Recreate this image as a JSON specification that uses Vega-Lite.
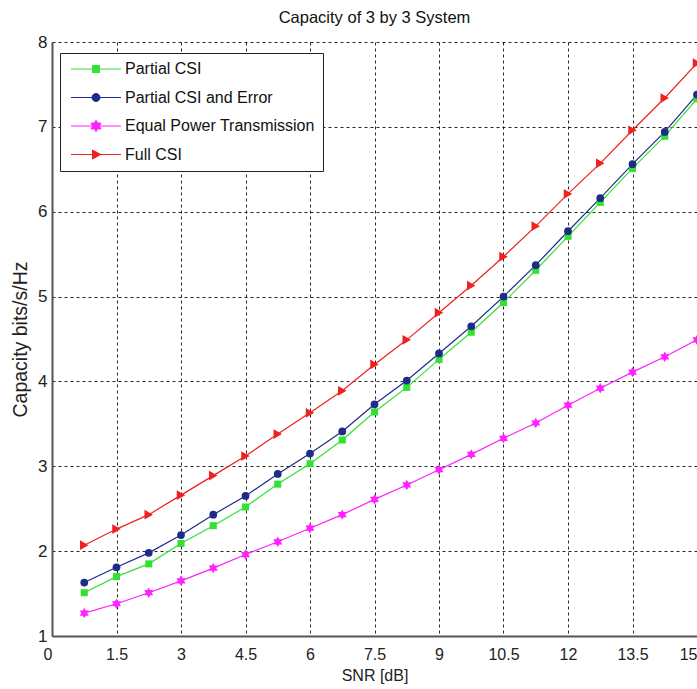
{
  "$schema": "https://vega.github.io/schema/vega-lite/v6.json",
  "width": 645,
  "height": 594,
  "autosize": {"type": "none"},
  "padding": {"left": 52, "top": 42, "right": 0, "bottom": 53},
  "background": "white",
  "title": {"text": "Capacity of 3 by 3 System", "font": "Liberation Sans", "fontSize": 16.5, "fontWeight": "normal", "color": "#111", "offset": 7, "anchor": "middle"},
  "config": {
    "view": {"stroke": null},
    "font": "Liberation Sans"
  },
  "data": {"values": [
    {"snr": 0.75, "cap": 1.51, "series": "Partial CSI"},
    {"snr": 1.5, "cap": 1.70, "series": "Partial CSI"},
    {"snr": 2.25, "cap": 1.85, "series": "Partial CSI"},
    {"snr": 3, "cap": 2.09, "series": "Partial CSI"},
    {"snr": 3.75, "cap": 2.30, "series": "Partial CSI"},
    {"snr": 4.5, "cap": 2.52, "series": "Partial CSI"},
    {"snr": 5.25, "cap": 2.79, "series": "Partial CSI"},
    {"snr": 6, "cap": 3.03, "series": "Partial CSI"},
    {"snr": 6.75, "cap": 3.31, "series": "Partial CSI"},
    {"snr": 7.5, "cap": 3.64, "series": "Partial CSI"},
    {"snr": 8.25, "cap": 3.93, "series": "Partial CSI"},
    {"snr": 9, "cap": 4.26, "series": "Partial CSI"},
    {"snr": 9.75, "cap": 4.58, "series": "Partial CSI"},
    {"snr": 10.5, "cap": 4.93, "series": "Partial CSI"},
    {"snr": 11.25, "cap": 5.31, "series": "Partial CSI"},
    {"snr": 12, "cap": 5.71, "series": "Partial CSI"},
    {"snr": 12.75, "cap": 6.11, "series": "Partial CSI"},
    {"snr": 13.5, "cap": 6.51, "series": "Partial CSI"},
    {"snr": 14.25, "cap": 6.89, "series": "Partial CSI"},
    {"snr": 15, "cap": 7.33, "series": "Partial CSI"},
    {"snr": 0.75, "cap": 1.63, "series": "Partial CSI and Error"},
    {"snr": 1.5, "cap": 1.81, "series": "Partial CSI and Error"},
    {"snr": 2.25, "cap": 1.98, "series": "Partial CSI and Error"},
    {"snr": 3, "cap": 2.19, "series": "Partial CSI and Error"},
    {"snr": 3.75, "cap": 2.43, "series": "Partial CSI and Error"},
    {"snr": 4.5, "cap": 2.65, "series": "Partial CSI and Error"},
    {"snr": 5.25, "cap": 2.91, "series": "Partial CSI and Error"},
    {"snr": 6, "cap": 3.15, "series": "Partial CSI and Error"},
    {"snr": 6.75, "cap": 3.41, "series": "Partial CSI and Error"},
    {"snr": 7.5, "cap": 3.73, "series": "Partial CSI and Error"},
    {"snr": 8.25, "cap": 4.01, "series": "Partial CSI and Error"},
    {"snr": 9, "cap": 4.33, "series": "Partial CSI and Error"},
    {"snr": 9.75, "cap": 4.65, "series": "Partial CSI and Error"},
    {"snr": 10.5, "cap": 5.00, "series": "Partial CSI and Error"},
    {"snr": 11.25, "cap": 5.37, "series": "Partial CSI and Error"},
    {"snr": 12, "cap": 5.77, "series": "Partial CSI and Error"},
    {"snr": 12.75, "cap": 6.16, "series": "Partial CSI and Error"},
    {"snr": 13.5, "cap": 6.56, "series": "Partial CSI and Error"},
    {"snr": 14.25, "cap": 6.94, "series": "Partial CSI and Error"},
    {"snr": 15, "cap": 7.38, "series": "Partial CSI and Error"},
    {"snr": 0.75, "cap": 1.27, "series": "Equal Power Transmission"},
    {"snr": 1.5, "cap": 1.38, "series": "Equal Power Transmission"},
    {"snr": 2.25, "cap": 1.51, "series": "Equal Power Transmission"},
    {"snr": 3, "cap": 1.65, "series": "Equal Power Transmission"},
    {"snr": 3.75, "cap": 1.80, "series": "Equal Power Transmission"},
    {"snr": 4.5, "cap": 1.96, "series": "Equal Power Transmission"},
    {"snr": 5.25, "cap": 2.11, "series": "Equal Power Transmission"},
    {"snr": 6, "cap": 2.27, "series": "Equal Power Transmission"},
    {"snr": 6.75, "cap": 2.43, "series": "Equal Power Transmission"},
    {"snr": 7.5, "cap": 2.61, "series": "Equal Power Transmission"},
    {"snr": 8.25, "cap": 2.78, "series": "Equal Power Transmission"},
    {"snr": 9, "cap": 2.96, "series": "Equal Power Transmission"},
    {"snr": 9.75, "cap": 3.14, "series": "Equal Power Transmission"},
    {"snr": 10.5, "cap": 3.33, "series": "Equal Power Transmission"},
    {"snr": 11.25, "cap": 3.51, "series": "Equal Power Transmission"},
    {"snr": 12, "cap": 3.72, "series": "Equal Power Transmission"},
    {"snr": 12.75, "cap": 3.92, "series": "Equal Power Transmission"},
    {"snr": 13.5, "cap": 4.11, "series": "Equal Power Transmission"},
    {"snr": 14.25, "cap": 4.29, "series": "Equal Power Transmission"},
    {"snr": 15, "cap": 4.49, "series": "Equal Power Transmission"},
    {"snr": 0.75, "cap": 2.07, "series": "Full CSI"},
    {"snr": 1.5, "cap": 2.26, "series": "Full CSI"},
    {"snr": 2.25, "cap": 2.43, "series": "Full CSI"},
    {"snr": 3, "cap": 2.66, "series": "Full CSI"},
    {"snr": 3.75, "cap": 2.89, "series": "Full CSI"},
    {"snr": 4.5, "cap": 3.12, "series": "Full CSI"},
    {"snr": 5.25, "cap": 3.38, "series": "Full CSI"},
    {"snr": 6, "cap": 3.63, "series": "Full CSI"},
    {"snr": 6.75, "cap": 3.89, "series": "Full CSI"},
    {"snr": 7.5, "cap": 4.20, "series": "Full CSI"},
    {"snr": 8.25, "cap": 4.49, "series": "Full CSI"},
    {"snr": 9, "cap": 4.81, "series": "Full CSI"},
    {"snr": 9.75, "cap": 5.13, "series": "Full CSI"},
    {"snr": 10.5, "cap": 5.47, "series": "Full CSI"},
    {"snr": 11.25, "cap": 5.83, "series": "Full CSI"},
    {"snr": 12, "cap": 6.21, "series": "Full CSI"},
    {"snr": 12.75, "cap": 6.57, "series": "Full CSI"},
    {"snr": 13.5, "cap": 6.96, "series": "Full CSI"},
    {"snr": 14.25, "cap": 7.34, "series": "Full CSI"},
    {"snr": 15, "cap": 7.75, "series": "Full CSI"}
  ]},
  "encoding": {
    "x": {
      "field": "snr", "type": "quantitative", "title": "SNR [dB]",
      "scale": {"domain": [0, 15], "nice": false, "zero": false},
      "axis": {
        "values": [0, 1.5, 3, 4.5, 6, 7.5, 9, 10.5, 12, 13.5, 15],
        "format": ".1~f", "labelFlush": false, "labelOverlap": false,
        "labelAlign": {"expr": "datum.value === 0 || datum.value === 15 ? 'right' : 'center'"},
        "grid": true, "gridColor": "#000", "gridDash": [3, 3], "gridOpacity": 0.85, "gridWidth": 1,
        "domainColor": "#555", "domainWidth": 2, "ticks": false,
        "labelFont": "Liberation Sans", "labelFontSize": 16, "labelColor": "#222", "labelPadding": 10,
        "titleFont": "Liberation Sans", "titleFontSize": 16, "titleFontWeight": "normal", "titleColor": "#222", "titlePadding": 5
      }
    },
    "y": {
      "field": "cap", "type": "quantitative", "title": "Capacity  bits/s/Hz",
      "scale": {"domain": [1, 8], "nice": false, "zero": false},
      "axis": {
        "values": [1, 2, 3, 4, 5, 6, 7, 8],
        "labelFlush": false,
        "grid": true, "gridColor": "#000", "gridDash": [3, 3], "gridOpacity": 0.85, "gridWidth": 1,
        "domainColor": "#555", "domainWidth": 2, "ticks": false,
        "labelFont": "Liberation Sans", "labelFontSize": 17, "labelColor": "#222", "labelPadding": 5,
        "titleFont": "Liberation Sans", "titleFontSize": 19.5, "titleFontWeight": "normal", "titleColor": "#222", "titlePadding": 7
      }
    },
    "color": {
      "field": "series", "type": "nominal",
      "scale": {
        "domain": ["Partial CSI", "Partial CSI and Error", "Equal Power Transmission", "Full CSI"],
        "range": ["#33e033", "#1c2c88", "#ff22ff", "#ee2020"]
      },
      "legend": {
        "title": null,
        "orient": "none", "legendX": 8, "legendY": 11,
        "direction": "vertical",
        "fillColor": "white", "strokeColor": "#222", "padding": 8,
        "symbolSize": 100, "symbolStrokeWidth": 1, "symbolOpacity": 1,
        "symbolType": {"expr": "datum.value === 'Partial CSI' ? 'M-1,0H9M3.3,-0.7H4.7V0.7H3.3Z' : datum.value === 'Partial CSI and Error' ? 'M-1,0H9M3.2,0A0.8,0.8,0,1,0,4.8,0A0.8,0.8,0,1,0,3.2,0Z' : datum.value === 'Equal Power Transmission' ? 'M-1,0H9M4,-1.15L5,0.58L3,0.58ZM4,1.15L3,-0.58L5,-0.58Z' : 'M-1,0H9M3.3,-0.9L4.95,0L3.3,0.9Z'"},
        "symbolStrokeColor": {"expr": "scale('color', datum.value)"},
        "symbolFillColor": {"expr": "scale('color', datum.value)"},
        "labelFont": "Liberation Sans", "labelFontSize": 16, "labelColor": "#111", "labelOffset": 41, "labelLimit": 0,
        "rowPadding": 12.5
      }
    }
  },
  "layer": [
    {
      "mark": {"type": "line", "strokeWidth": 1.2},
      "encoding": {}
    },
    {
      "transform": [{"filter": {"field": "series", "equal": "Partial CSI"}}],
      "mark": {"type": "point", "filled": true, "shape": "square", "size": 50, "opacity": 1},
      "encoding": {}
    },
    {
      "transform": [{"filter": {"field": "series", "equal": "Partial CSI and Error"}}],
      "mark": {"type": "point", "filled": true, "shape": "circle", "size": 60, "opacity": 1},
      "encoding": {}
    },
    {
      "transform": [{"filter": {"field": "series", "equal": "Equal Power Transmission"}}],
      "mark": {"type": "point", "filled": true, "shape": "M0,-1.1L0.95,0.55L-0.95,0.55ZM0,1.1L-0.95,-0.55L0.95,-0.55Z", "size": 90, "opacity": 1},
      "encoding": {}
    },
    {
      "transform": [{"filter": {"field": "series", "equal": "Full CSI"}}],
      "mark": {"type": "point", "filled": true, "shape": "triangle-right", "size": 95, "opacity": 1},
      "encoding": {}
    }
  ]
}
